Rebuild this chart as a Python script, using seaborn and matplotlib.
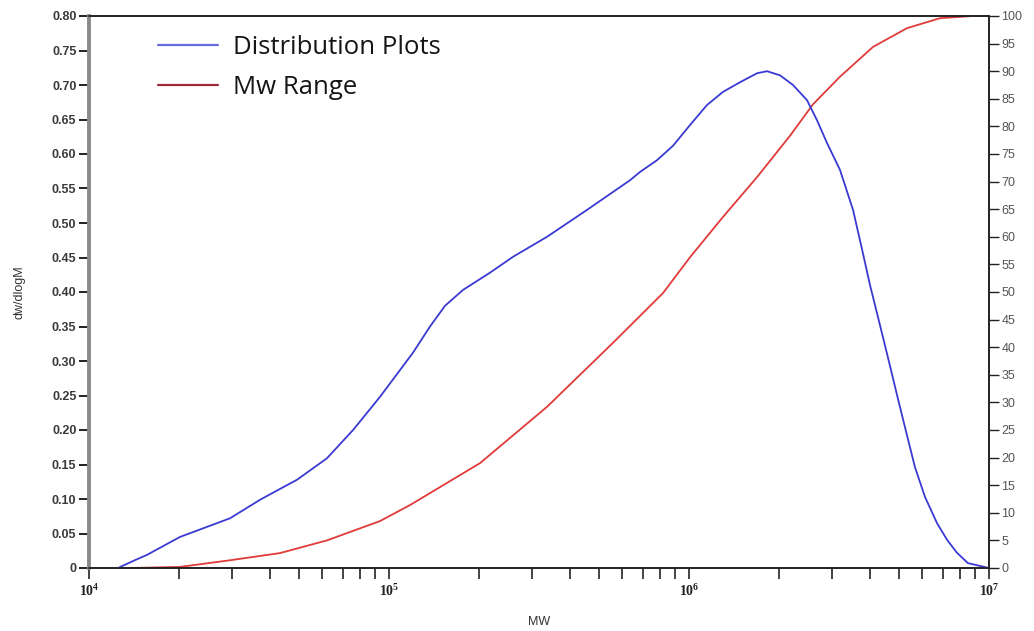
import matplotlib
matplotlib.use("Agg")
import matplotlib.pyplot as plt
import matplotlib.ticker as mticker
from matplotlib.lines import Line2D
import seaborn as sns
import pandas as pd

# Molecular weight distribution (dw/dlogM) against MW
dist_mw = [12500, 14000, 15600, 20100, 29500, 37200, 49400, 62100, 75900,
           93300, 120200, 137000, 153700, 176500, 217100, 259000, 336300,
           457100, 636000, 686600, 782200, 884700, 1008000, 1148000,
           1298000, 1479000, 1685000, 1820000, 2011000, 2222000, 2474000,
           2671000, 2884000, 3186000, 3522000, 3773000, 4012000, 4331000,
           4677000, 4973000, 5331000, 5666000, 6119000, 6710000, 7244000,
           7823000, 8511000, 9333000, 10000000]
dist_val = [0.0, 0.010, 0.019, 0.045, 0.072, 0.099, 0.128, 0.159, 0.200,
            0.248, 0.312, 0.350, 0.380, 0.403, 0.428, 0.451, 0.480,
            0.519, 0.562, 0.574, 0.591, 0.612, 0.642, 0.671,
            0.690, 0.704, 0.717, 0.720, 0.714, 0.700, 0.678,
            0.649, 0.616, 0.577, 0.519, 0.462, 0.410, 0.352,
            0.293, 0.245, 0.192, 0.146, 0.103, 0.065, 0.041,
            0.022, 0.007, 0.003, 0.0]

# Cumulative weight fraction (%) against MW
cum_mw = [13700, 20100, 29500, 43300, 62100, 93300, 117500, 201100,
          336300, 558100, 818900, 1008000, 1298000, 1685000, 2171000,
          2590000, 3186000, 4105000, 5331000, 6866000, 8847000, 10000000]
cum_val = [0.0, 0.2, 1.4, 2.7, 5.0, 8.5, 11.4, 19.0, 29.2, 40.8, 49.8,
           56.3, 63.6, 70.8, 78.3, 84.0, 89.0, 94.4, 97.8, 99.6, 100.0, 100.0]

left_ticks = [round(0.05 * i, 2) for i in range(17)]
left_labels = ["0"] + [f"{v:.2f}" for v in left_ticks[1:]]
right_ticks = list(range(0, 101, 5))
x_ticks = [1e4, 1e5, 1e6, 1e7]
x_labels = [r"$\mathregular{10^{4}}$", r"$\mathregular{10^{5}}$",
            r"$\mathregular{10^{6}}$", r"$\mathregular{10^{7}}$"]

dist_df = pd.DataFrame({"MW": dist_mw, "dw/dlogM": dist_val})
cum_df = pd.DataFrame({"MW": cum_mw, "cum": cum_val})

sns.set_theme(style="white")
plt.rcParams["font.family"] = ["Liberation Sans", "DejaVu Sans"]

fig = plt.figure(figsize=(10.34, 6.31), dpi=100)
ax = fig.add_axes([89 / 1034, 1 - 568 / 631, 900 / 1034, 552 / 631])
ax2 = ax.twinx()

blue = "#3a3ad2"
red = "#e03a3a"

sns.lineplot(data=cum_df, x="MW", y="cum", ax=ax2, color=red, linewidth=1.3)
sns.lineplot(data=dist_df, x="MW", y="dw/dlogM", ax=ax, color=blue, linewidth=1.3)
ax.set_zorder(ax2.get_zorder() + 1)
ax.patch.set_visible(False)

ax.set_xscale("log")
ax.set_xlim(1e4, 1e7)
ax.set_ylim(0, 0.80)
ax2.set_ylim(0, 100)

ax.set_yticks(left_ticks)
ax.set_yticklabels(left_labels)
ax2.set_yticks(right_ticks)
ax2.set_yticklabels([str(v) for v in right_ticks])
ax.set_xticks(x_ticks)
ax.set_xticklabels(x_labels)
ax.xaxis.set_minor_locator(mticker.LogLocator(base=10, subs=range(2, 10)))
ax.xaxis.set_minor_formatter(mticker.NullFormatter())

for lab in ax.get_xticklabels():
    lab.set_family(["Liberation Serif", "DejaVu Serif"])
    lab.set_fontweight("bold")
for lab in ax.get_yticklabels():
    lab.set_fontweight("bold")

ax.tick_params(axis="y", which="both", direction="out", length=7, width=1.4,
               color="#222222", labelsize=9, labelcolor="#3a3a3a", pad=2, left=True)
ax.tick_params(axis="x", which="both", direction="out", length=8, width=1.2,
               color="#222222", labelsize=10, labelcolor="#222222", pad=3, bottom=True)
ax2.tick_params(axis="y", direction="out", length=7, width=1.0, color="#222222",
                labelsize=9, labelcolor="#555555", pad=2, right=True)

for a in (ax, ax2):
    for s in a.spines.values():
        s.set_color("#222222")
        s.set_linewidth(1.2)
ax.spines["left"].set_color("#8a8a8a")
ax.spines["left"].set_linewidth(2.8)
ax2.spines["left"].set_visible(False)

ax.set_xlabel("MW", fontsize=9, color="#333333", labelpad=12)
ax.set_ylabel("dw/dlogM", fontsize=9, color="#333333", labelpad=19)
ax2.set_ylabel("")

handles = [Line2D([], [], color="#6a6ae0", linewidth=1.6),
           Line2D([], [], color="#9a2a3a", linewidth=1.6)]
leg = ax.legend(handles, ["Distribution Plots", "Mw Range"],
                loc="upper left", bbox_to_anchor=(158 / 1034, 1 - 35 / 631),
                bbox_transform=fig.transFigure, frameon=False,
                prop={"family": ["Open Sans", "DejaVu Sans"], "size": 18.5},
                handlelength=2.35, handletextpad=0.55, labelspacing=0.57,
                borderaxespad=0, borderpad=0)
for t in leg.get_texts():
    t.set_color("#151515")

fig.savefig("out.png", dpi=100, facecolor="white")
